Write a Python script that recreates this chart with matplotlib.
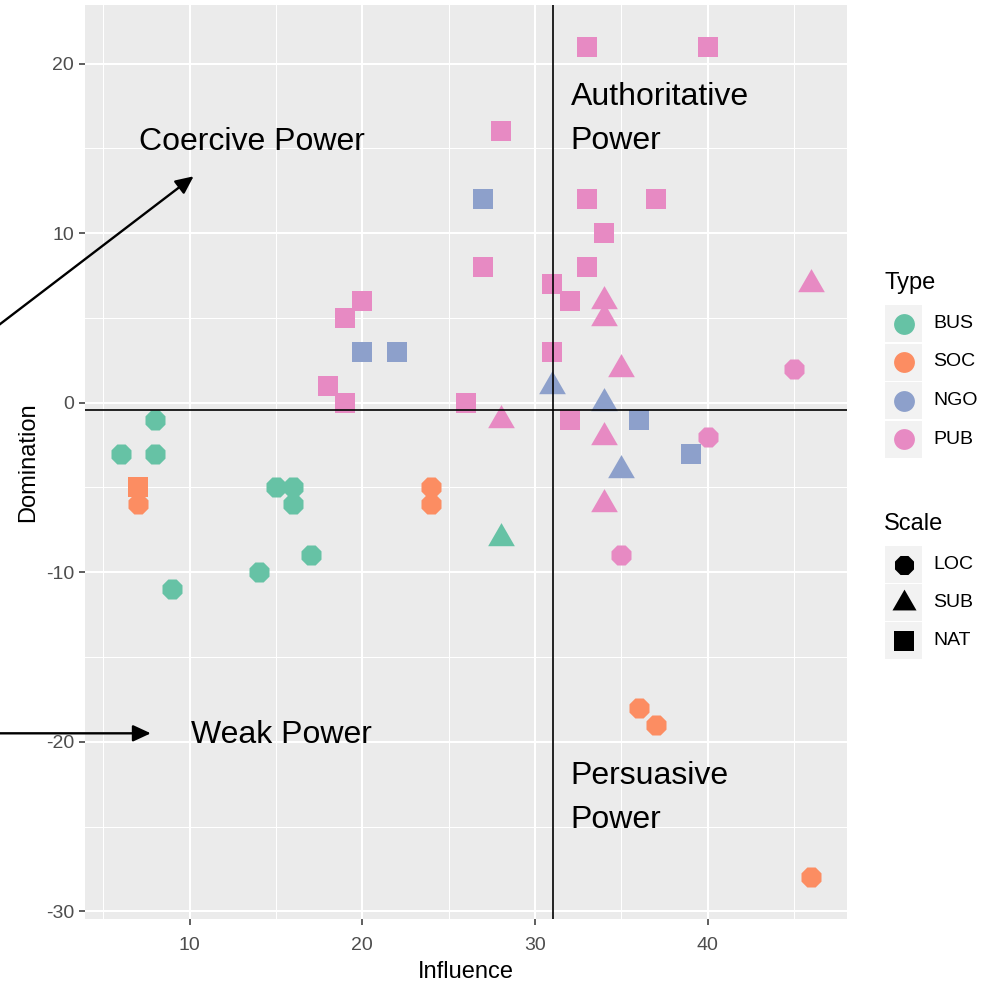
import matplotlib
matplotlib.use('Agg')
import matplotlib.pyplot as plt
from matplotlib.patches import Rectangle

plt.rcParams['font.family'] = ['Liberation Sans', 'DejaVu Sans']
plt.rcParams['axes.unicode_minus'] = False

#Values (one entry per organisation)
influence = [6, 8, 8, 9, 14, 15, 16, 16, 17, 28,
             7, 24, 24, 36, 37, 46, 7,
             31, 34, 35, 20, 22, 27, 36, 39,
             45, 40, 35,
             46, 34, 34, 35, 28, 34, 34,
             33, 40, 28, 33, 37, 34, 27, 33, 31, 32, 20, 19, 31, 18, 19, 26, 32]
domination = [-3, -1, -3, -11, -10, -5, -5, -6, -9, -8,
              -6, -5, -6, -18, -19, -28, -5,
              1, 0, -4, 3, 3, 12, -1, -3,
              2, -2, -9,
              7, 6, 5, 2, -1, -2, -6,
              21, 21, 16, 12, 12, 10, 8, 8, 7, 6, 6, 5, 3, 1, 0, 0, -1]
org_type = ['BUS'] * 10 + ['SOC'] * 7 + ['NGO'] * 8 + ['PUB'] * 27
org_scale = (['LOC'] * 9 + ['SUB'] + ['LOC'] * 6 + ['NAT'] + ['SUB'] * 3 + ['NAT'] * 5
             + ['LOC'] * 3 + ['SUB'] * 7 + ['NAT'] * 17)

type_names = ['BUS', 'SOC', 'NGO', 'PUB']
scale_names = ['LOC', 'SUB', 'NAT']

#Reference lines splitting the quadrants
split_influence = 31.04
split_domination = -0.41

#Quadrant labels: (text, x, y of last baseline)
quadrants = [
	('Coercive Power', 7.05, 14.88),
	('Authoritative\nPower', 32.05, 14.94),
	('Weak Power', 10.05, -20.08),
	('Persuasive\nPower', 32.05, -25.1),
]
#Arrows: (start, end)
arrows = [
	((-3, 3.06), (10.23, 13.35)),
	((-3, -19.5), (7.75, -19.5)),
]

#Looks
type_colors = {'BUS': '#66C2A5', 'SOC': '#FC8D62', 'NGO': '#8DA0CB', 'PUB': '#E78AC3'}
scale_markers = {'LOC': '8', 'SUB': (3, 0, 0), 'NAT': 's'}
scale_sizes = {'LOC': 243, 'SUB': 493, 'NAT': 207}

W, H = 988, 982
fig = plt.figure(figsize=(W / 100, H / 100), dpi=100)
ax = fig.add_axes([85 / W, 1 - 919 / H, (847 - 85) / W, (919 - 5) / H])
ax.set_facecolor('#EBEBEB')
for s in ax.spines.values():
	s.set_visible(False)

ax.set_xlim(3.94, 48.06)
ax.set_ylim(-30.45, 23.45)
ax.set_xticks([10, 20, 30, 40])
ax.set_yticks([-30, -20, -10, 0, 10, 20])
ax.set_xticks([5, 15, 25, 35, 45], minor=True)
ax.set_yticks([-25, -15, -5, 5, 15], minor=True)
ax.grid(which='major', color='white', linewidth=1.5)
ax.grid(which='minor', color='white', linewidth=0.75)
ax.set_axisbelow(True)
ax.tick_params(which='major', length=4.3, width=1.1, color='#333333',
               labelsize=14, labelcolor='#4D4D4D', pad=3.5)
ax.tick_params(axis='x', which='major', pad=8.5)
ax.tick_params(which='minor', length=0)

for i in range(len(influence)):
	ax.scatter(influence[i], domination[i], s=scale_sizes[org_scale[i]],
	           marker=scale_markers[org_scale[i]], color=type_colors[org_type[i]],
	           linewidths=0, zorder=3)

ax.axvline(split_influence, color='black', linewidth=1.2, zorder=4)
ax.axhline(split_domination, color='black', linewidth=1.2, zorder=4)

for label, x, y in quadrants:
	ax.text(x, y, label, fontsize=23, ha='left', va='baseline', linespacing=1.62, zorder=5)

for (x0, y0), (x1, y1) in arrows:
	ax.annotate('', xy=(x1, y1), xytext=(x0, y0), annotation_clip=False,
	            arrowprops=dict(arrowstyle='-|>,head_length=1.08,head_width=0.5',
	                            mutation_scale=10, color='black', lw=1.7,
	                            shrinkA=0, shrinkB=0), zorder=5)

ax.set_xlabel('Influence', fontsize=17, labelpad=5.5)
ax.set_ylabel('Domination', fontsize=17, labelpad=4.6)

#Legend, drawn by hand in pixel space
leg = fig.add_axes([0, 0, 1, 1])
leg.set_xlim(0, W)
leg.set_ylim(H, 0)
leg.axis('off')
leg.patch.set_visible(False)

leg.text(884, 289, 'Type', fontsize=17, va='baseline', ha='left')
for k, name in enumerate(type_names):
	top = 305 + k * 38.5
	leg.add_patch(Rectangle((885, top), 37, 37, facecolor='#F2F2F2', edgecolor='none'))
	leg.scatter(903.5, top + 18.5, s=225, marker='o', color=type_colors[name], linewidths=0)
	leg.text(933, top + 18.5, name, fontsize=14, va='center', ha='left')

leg.text(884, 530, 'Scale', fontsize=17, va='baseline', ha='left')
legend_sizes = {'LOC': 220, 'SUB': 400, 'NAT': 207}
for k, name in enumerate(scale_names):
	top = 546 + k * 38.2
	leg.add_patch(Rectangle((885, top), 37, 37, facecolor='#F2F2F2', edgecolor='none'))
	leg.scatter(903.5, top + 18.5, s=legend_sizes[name], marker=scale_markers[name],
	            color='black', linewidths=0)
	leg.text(933, top + 18.5, name, fontsize=14, va='center', ha='left')

fig.savefig('out.png', dpi=100)
